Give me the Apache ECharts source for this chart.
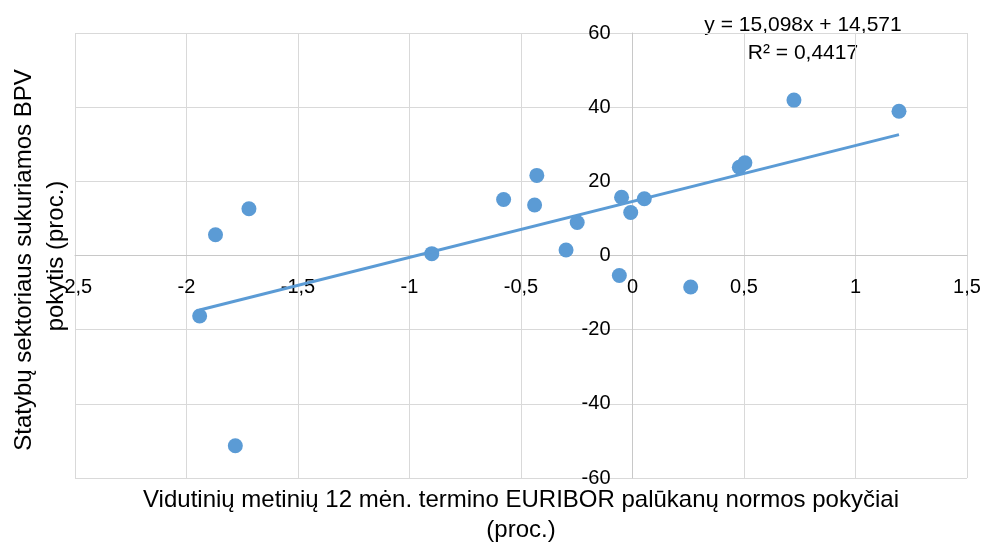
<!DOCTYPE html>
<html><head><meta charset="utf-8">
<script src="https://cdn.jsdelivr.net/npm/echarts@6/dist/echarts.min.js"></script>
<style>html,body{margin:0;padding:0;background:#fff}#c{width:984px;height:544px}</style>
</head><body><div id="c"></div>
<script>
// Data
const euriborChange = [-1.87, -1.72, -0.90, -0.578, -0.429, -0.439, -0.298, -0.248, -0.049, -0.008, 0.053, -0.059, 0.261, 0.479, 0.504, 0.724, 1.195, -1.941, -1.781];
const bpvChange     = [5.6, 12.6, 0.5, 15.1, 21.6, 13.6, 1.5, 8.9, 15.7, 11.6, 15.3, -5.4, -8.5, 23.8, 25.0, 41.9, 38.9, -16.3, -51.3];
const trendX = [-1.941, 1.195];
const trendY = [-14.7, 32.6];
const xTickRange = [-2.5, 1.5, 0.5];
const yTickRange = [-60, 60, 20];
const equationText = ['y = 15,098x + 14,571', 'R² = 0,4417'];
const xTitle = ['Vidutinių metinių 12 mėn. termino EURIBOR palūkanų normos pokyčiai', '(proc.)'];
const yTitle = ['Statybų sektoriaus sukuriamos BPV', 'pokytis (proc.)'];

const FONT = '"Liberation Sans", Arial, sans-serif';
const BLUE = '#5B9BD5';
const W = 984, H = 544;
const G = {left: 75, right: 17, top: 33, bottom: 66};
const gw = W - G.left - G.right, gh = H - G.top - G.bottom;
// axes cross at zero: shift each axis line to the other's zero
const xAxisOffset = -gh * (0 - yTickRange[0]) / (yTickRange[1] - yTickRange[0]);
const yAxisOffset = -gw * (0 - xTickRange[0]) / (xTickRange[1] - xTickRange[0]);

const chart = echarts.init(document.getElementById('c'), null, {renderer: 'canvas'});
const pts = euriborChange.map((x, i) => [x, bpvChange[i]]);
const trend = trendX.map((x, i) => [x, trendY[i]]);
const comma = v => String(v).replace('.', ',');

chart.setOption({
  animation: false,
  backgroundColor: '#fff',
  grid: Object.assign({containLabel: false}, G),
  xAxis: {
    type: 'value', min: xTickRange[0], max: xTickRange[1], interval: xTickRange[2],
    position: 'bottom', offset: xAxisOffset,
    axisLine: {show: true, onZero: false, lineStyle: {color: '#c8c8c8', width: 1}},
    axisTick: {show: false},
    splitLine: {show: true, lineStyle: {color: '#d9d9d9', width: 1}},
    axisLabel: {formatter: comma, color: '#000', fontFamily: FONT, fontSize: 20, margin: 22, showMinLabel: true, showMaxLabel: true}
  },
  yAxis: {
    type: 'value', min: yTickRange[0], max: yTickRange[1], interval: yTickRange[2],
    position: 'left', offset: yAxisOffset,
    axisLine: {show: true, onZero: false, lineStyle: {color: '#c8c8c8', width: 1}},
    axisTick: {show: false},
    splitLine: {show: true, lineStyle: {color: '#d9d9d9', width: 1}},
    axisLabel: {formatter: comma, color: '#000', fontFamily: FONT, fontSize: 20, margin: 22, showMinLabel: true, showMaxLabel: true}
  },
  series: [
    {type: 'scatter', data: pts, symbol: 'circle', symbolSize: 15, itemStyle: {color: BLUE, opacity: 1}, z: 3},
    {type: 'line', data: trend, showSymbol: false, symbol: 'none', lineStyle: {color: BLUE, width: 3}, z: 4, silent: true}
  ],
  graphic: [
    {type: 'text', x: 803, y: 25, style: {text: equationText[0], font: '21px ' + FONT, fill: '#000', align: 'center', verticalAlign: 'middle'}},
    {type: 'text', x: 803, y: 53, style: {text: equationText[1], font: '21px ' + FONT, fill: '#000', align: 'center', verticalAlign: 'middle'}},
    {type: 'text', x: 521, y: 500, style: {text: xTitle[0], font: '24px ' + FONT, fill: '#000', align: 'center', verticalAlign: 'middle'}},
    {type: 'text', x: 521, y: 530, style: {text: xTitle[1], font: '24px ' + FONT, fill: '#000', align: 'center', verticalAlign: 'middle'}},
    {type: 'text', x: 24, y: 260, rotation: Math.PI / 2, style: {text: yTitle[0], font: '24px ' + FONT, fill: '#000', align: 'center', verticalAlign: 'middle'}},
    {type: 'text', x: 56, y: 256, rotation: Math.PI / 2, style: {text: yTitle[1], font: '24px ' + FONT, fill: '#000', align: 'center', verticalAlign: 'middle'}}
  ]
});
</script></body></html>
